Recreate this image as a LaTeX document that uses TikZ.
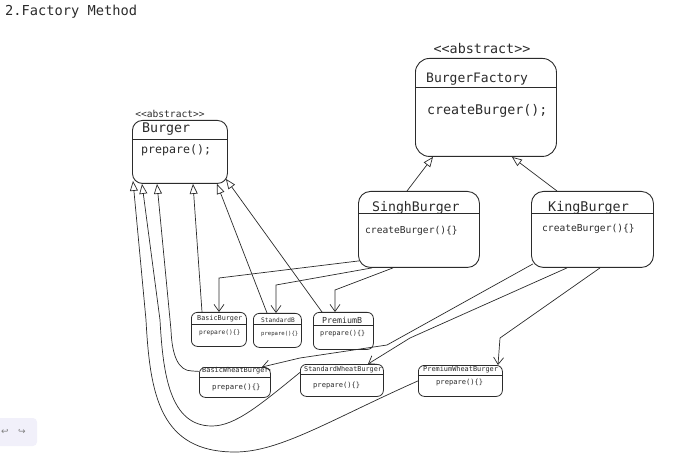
\documentclass[tikz,border=0pt]{standalone}
\usepackage{fontspec}
\usepackage{tikz}
\usetikzlibrary{arrows.meta,positioning,calc}
\newfontfamily\sketchfont{DejaVu Sans Mono}
\newfontfamily\symfont{DejaVu Sans}
\newcommand{\abstr}{<\kern0pt<abstract>\kern0pt>}
\definecolor{ink}{HTML}{2B2B2B}
\definecolor{toolbar}{HTML}{F1F0FA}
\tikzset{
	classbox/.style = {draw=ink, fill=white, rectangle, rounded corners=10pt, inner sep=0pt, anchor=north west, line width=0.9pt},
	smallbox/.style = {classbox, rounded corners=6pt, line width=0.8pt},
	txt/.style = {inner sep=0pt, anchor=west, text=ink},
	stereo/.style = {inner sep=0pt, text=ink},
	sep/.style = {draw=ink, line width=0.8pt},
	inherit/.style = {draw=ink, line width=0.7pt, -{Triangle[open,length=10pt,width=8pt]}},
	create/.style = {draw=ink, line width=0.7pt, ->},
	coord/.style = {coordinate}
}
\newcommand{\fs}[1]{\sketchfont\fontsize{#1}{#1}\selectfont}

\begin{document}
\begin{tikzpicture}[x=1pt, y=-1pt, >={Straight Barb[length=7pt,width=10pt]}]
		\useasboundingbox (0,0) rectangle (680,454);
		\node [txt, font=\fs{13.7}] (heading) at (5,12) {2.Factory Method};
		% toolbar
		\fill [toolbar, rounded corners=4pt] (-10,418) rectangle (37,446);
		\node [stereo, font=\symfont\fontsize{9}{9}\selectfont, text=gray] (undo) at (5,432) {↩};
		\node [stereo, font=\symfont\fontsize{9}{9}\selectfont, text=gray] (redo) at (22,432) {↪};
		% abstract product
		\node [classbox, minimum width=95pt, minimum height=63pt] (burger) at (132,120) {};
		\draw [sep] (burger.west |- 0,139) -- (burger.east |- 0,139);
		\node [stereo, font=\fs{9.6}] (burgerst) at (170,114) {\abstr};
		\node [txt, font=\fs{13.3}] (burgername) at (142,129) {Burger};
		\node [txt, font=\fs{11.6}] (burgerop) at (141,150) {prepare();};
		% abstract creator
		\node [classbox, rounded corners=14pt, minimum width=141pt, minimum height=98pt] (factory) at (415,58) {};
		\draw [sep] (factory.west |- 0,87) -- (factory.east |- 0,87);
		\node [stereo, font=\fs{13.4}] (factoryst) at (482,49) {\abstr};
		\node [txt, font=\fs{13}] (factoryname) at (426,79) {BurgerFactory};
		\node [txt, font=\fs{13.3}] (factoryop) at (427,111) {createBurger();};
		% concrete creators
		\node [classbox, rounded corners=12pt, minimum width=121pt, minimum height=76pt] (singh) at (358,191) {};
		\draw [sep] (singh.west |- 0,213) -- (singh.east |- 0,213);
		\node [txt, font=\fs{13.2}] (singhname) at (372,208) {SinghBurger};
		\node [txt, font=\fs{9.6}] (singhop) at (365,231) {createBurger()\{\}};
		\node [classbox, rounded corners=12pt, minimum width=122pt, minimum height=76pt] (king) at (531,191) {};
		\draw [sep] (king.west |- 0,213) -- (king.east |- 0,213);
		\node [txt, font=\fs{13.4}] (kingname) at (548,208) {KingBurger};
		\node [txt, font=\fs{9.6}] (kingop) at (542,229) {createBurger()\{\}};
		% concrete products
		\node [smallbox, minimum width=55pt, minimum height=34pt] (basicb) at (191,312) {};
		\draw [sep] (basicb.west |- 0,324) -- (basicb.east |- 0,324);
		\node [txt, font=\fs{6.8}] (basicbname) at (197,319) {BasicBurger};
		\node [txt, font=\fs{6.2}] (basicbop) at (199,333) {prepare()\{\}};
		\node [smallbox, minimum width=48pt, minimum height=34pt] (standb) at (253,313) {};
		\draw [sep] (standb.west |- 0,324) -- (standb.east |- 0,324);
		\node [txt, font=\fs{6.2}] (standbname) at (261,320) {StandardB};
		\node [txt, font=\fs{5.6}] (standbop) at (261,334) {prepare()\{\}};
		\node [smallbox, minimum width=60pt, minimum height=37pt] (premb) at (313,312) {};
		\draw [sep] (premb.west |- 0,325) -- (premb.east |- 0,325);
		\node [txt, font=\fs{8.3}] (prembname) at (322,320) {PremiumB};
		\node [txt, font=\fs{6.8}] (prembop) at (320,334) {prepare()\{\}};
		\node [smallbox, minimum width=71pt, minimum height=30pt] (bwheat) at (199,367) {};
		\draw [sep] (bwheat.west |- 0,377) -- (bwheat.east |- 0,377);
		\node [txt, font=\fs{6.9}] (bwheatname) at (202,371) {BasicWheatBurger};
		\node [txt, font=\fs{7.3}] (bwheatop) at (212,387) {prepare()\{\}};
		\node [smallbox, minimum width=83pt, minimum height=32pt] (swheat) at (300,364) {};
		\draw [sep] (swheat.west |- 0,374) -- (swheat.east |- 0,374);
		\node [txt, font=\fs{6.8}] (swheatname) at (304,370) {StandardWheatBurger};
		\node [txt, font=\fs{7.1}] (swheatop) at (313,386) {prepare()\{\}};
		\node [smallbox, minimum width=84pt, minimum height=31pt] (pwheat) at (418,365) {};
		\draw [sep] (pwheat.west |- 0,375) -- (pwheat.east |- 0,375);
		\node [txt, font=\fs{6.9}] (pwheatname) at (423,370) {PremiumWheatBurger};
		\node [txt, font=\fs{7.1}] (pwheatop) at (436,383) {prepare()\{\}};
		% products extend Burger
		\draw [inherit] ([xshift=11pt]basicb.north west) -- ([xshift=61pt]burger.south west);
		\draw [inherit] ([xshift=14pt]standb.north west) -- ([xshift=85pt]burger.south west);
		\draw [inherit] ([xshift=9pt]premb.north west) -- ([xshift=-2pt,yshift=5pt]burger.south east);
		\draw [inherit] ([yshift=11pt]bwheat.west) -- (192,371) .. controls (178,371) and (172,355) .. (171,330) -- ([xshift=25pt]burger.south west);
		\draw [inherit] ([yshift=8pt]swheat.west) .. controls (260,405) and (235,426) .. (212,426) .. controls (170,426) and (163,375) .. (160,320) -- ([xshift=10pt]burger.south west);
		\draw [inherit] (pwheat.west) .. controls (330,420) and (280,452) .. (235,452) .. controls (160,452) and (150,395) .. (146,320) -- ([xshift=1pt,yshift=3pt]burger.south west);
		% creators extend BurgerFactory
		\draw [inherit] ([xshift=49pt]singh.north west) -- ([xshift=18pt]factory.south west);
		\draw [inherit] ([xshift=26pt]king.north west) -- ([xshift=-45pt]factory.south east);
		% creators make products
		\draw [create] ([xshift=1pt,yshift=7pt]singh.south west) -- (219,278) -- ([xshift=28pt]basicb.north west);
		\draw [create] ([xshift=14pt]singh.south west) -- (276,285) -- ([xshift=23pt]standb.north west);
		\draw [create] ([xshift=35pt]singh.south west) -- (335,290) -- ([xshift=22pt]premb.north west);
		\draw [create] ([xshift=2pt,yshift=4pt]king.south west) -- (387,345) -- (300,358) -- ([xshift=63pt]bwheat.north west);
		\draw [create] ([xshift=36pt]king.south west) -- (410,338) -- ([xshift=68pt]swheat.north west);
		\draw [create] ([xshift=69pt]king.south west) -- (500,338) -- ([xshift=80pt]pwheat.north west);
\end{tikzpicture}
\end{document}
